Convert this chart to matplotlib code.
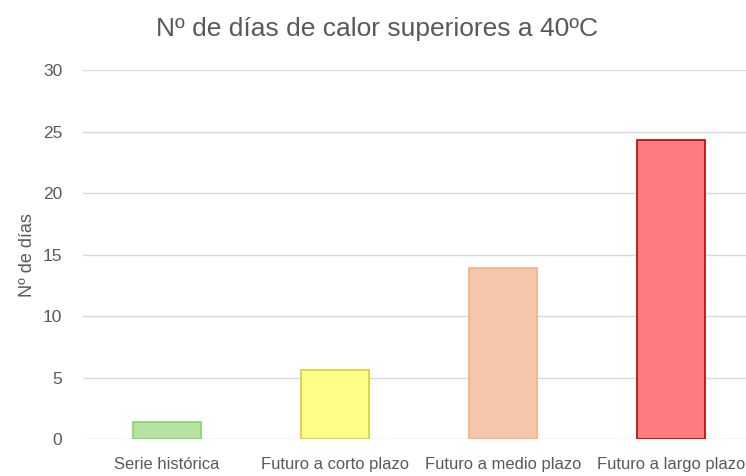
import matplotlib.pyplot as plt
from matplotlib import font_manager

# datos: nº de días de calor por encima de 40ºC
periodos = ["Serie histórica", "Futuro a corto plazo", "Futuro a medio plazo", "Futuro a largo plazo"]
dias = [1.4, 5.6, 13.9, 24.3]
relleno = ["#b4e4a0", "#ffff88", "#f5c6aa", "#ff7c80"]
borde = ["#86d46e", "#d9cc33", "#f4b183", "#c00000"]

nombres = {f.name for f in font_manager.fontManager.ttflist}
fuente = "Liberation Sans Narrow" if "Liberation Sans Narrow" in nombres else "Liberation Sans"
plt.rcParams['font.family'] = [fuente, 'DejaVu Sans']
gris = "#595959"

fig = plt.figure(figsize=(7.46, 4.76), dpi=100)
ax = fig.add_axes([0.1113, 0.0777, 0.9008, 0.775])

x = list(range(len(periodos)))
ax.bar(x, dias, width=0.405, color=relleno, edgecolor=borde, linewidth=1.2, zorder=3)

ax.set_ylim(0, 30)
ax.set_xlim(-0.5, 3.5)
ax.set_yticks(range(0, 31, 5))
ax.set_xticks(x)
ax.set_xticklabels(periodos)
ax.grid(axis='y', color="#d9d9d9", linewidth=1, zorder=0)
ax.tick_params(axis='both', length=0, labelsize=12.5, colors=gris)
ax.tick_params(axis='x', labelsize=11.9, pad=13)
ax.tick_params(axis='y', pad=15)
for s in ax.spines.values():
    s.set_visible(False)

ax.set_ylabel("Nº de días", fontsize=13, color=gris, labelpad=5)
fig.text(0.505, 0.94, "Nº de días de calor superiores a 40ºC", ha='center', va='center',
         fontsize=19, color=gris)

plt.savefig('out.png', dpi=100)
